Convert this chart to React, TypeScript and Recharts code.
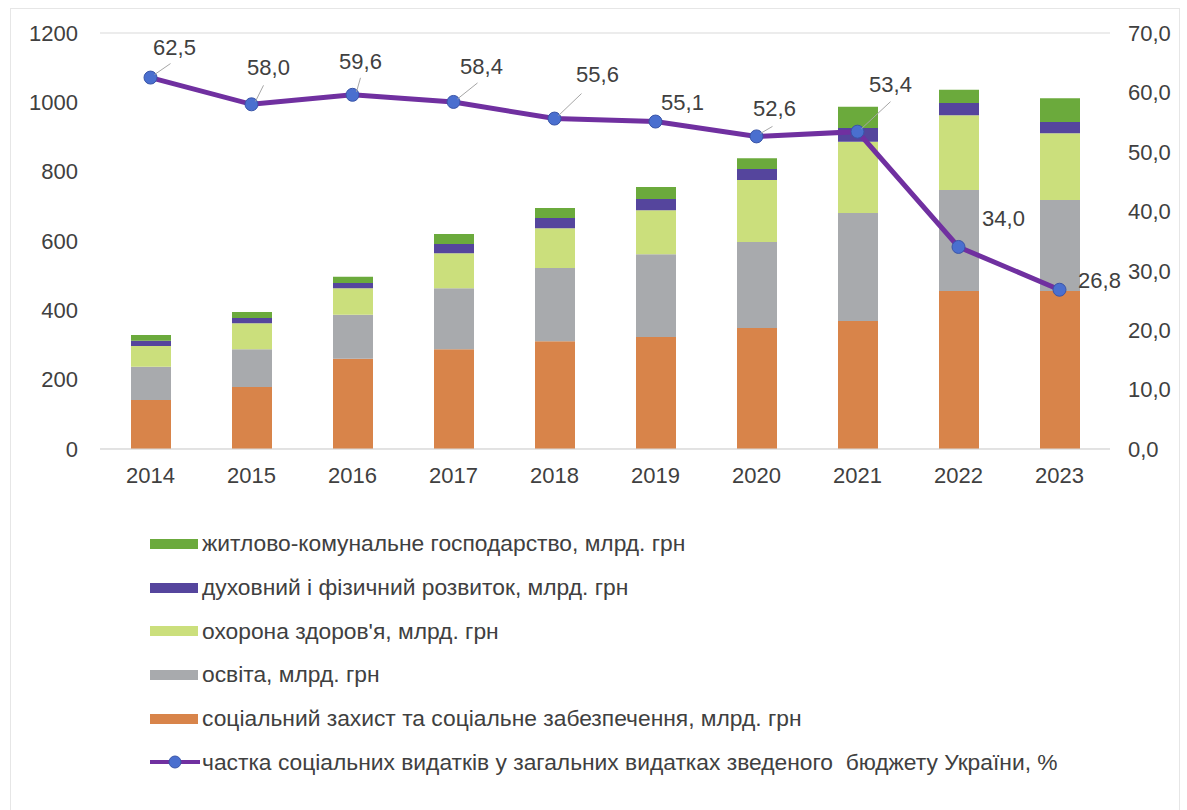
import { ComposedChart, Bar, Line, XAxis, YAxis, CartesianGrid, LabelList } from "recharts";

const years = ["2014", "2015", "2016", "2017", "2018", "2019", "2020", "2021", "2022", "2023"];
const socialProtection = [141, 179, 260, 288, 311, 323, 349, 369, 456, 456];
const education = [96, 109, 127, 176, 211, 239, 248, 312, 291, 262];
const health = [60, 75, 77, 101, 115, 127, 179, 205, 216, 193];
const spiritual = [15, 15, 15, 26, 29, 32, 32, 40, 35, 32];
const housing = [17, 17, 18, 29, 29, 35, 31, 61, 38, 69];
const socialShare = [62.5, 58.0, 59.6, 58.4, 55.6, 55.1, 52.6, 53.4, 34.0, 26.8];

const leftTicks = [0, 200, 400, 600, 800, 1000, 1200];
const rightTicks = [0, 10, 20, 30, 40, 50, 60, 70];

const data = years.map((year, i) => ({
  year,
  social: socialProtection[i],
  edu: education[i],
  health: health[i],
  spirit: spiritual[i],
  housing: housing[i],
  share: socialShare[i],
}));

// label offset from the point: text centre dx/dy, optional leader end
const labelOffsets = [
  { dx: 24, dy: -30, lead: [20, -14] },
  { dx: 17, dy: -37, lead: [12, -19] },
  { dx: 8, dy: -33, lead: [8, -17] },
  { dx: 28, dy: -35, lead: [24, -19] },
  { dx: 43, dy: -44, lead: [27, -25] },
  { dx: 27, dy: -19, lead: null },
  { dx: 18, dy: -28, lead: [16, -10] },
  { dx: 33, dy: -47, lead: [33, -30] },
  { dx: 45, dy: -28, lead: null },
  { dx: 40, dy: -9, lead: null },
];

const FONT = "'Liberation Sans', Arial, sans-serif";
const TEXT = "#404040";

const colors = {
  social: "#D8844A",
  edu: "#A8AAAD",
  health: "#CBDF7C",
  spirit: "#55459D",
  housing: "#6BAA3C",
  line: "#7030A0",
  marker: "#4A6FCF",
};

const legendItems = [
  { key: "housing", label: "житлово-комунальне господарство, млрд. грн" },
  { key: "spirit", label: "духовний і фізичний розвиток, млрд. грн" },
  { key: "health", label: "охорона здоров'я, млрд. грн" },
  { key: "edu", label: "освіта, млрд. грн" },
  { key: "social", label: "соціальний захист та соціальне забезпечення, млрд. грн" },
  { key: "line", label: "частка соціальних видатків у загальних видатках зведеного  бюджету України, %" },
];

const fmt = (v: number) => v.toFixed(1).replace(".", ",");

const ShareLabel = (props: any) => {
  const { x, y, value, index } = props;
  const o = labelOffsets[index];
  return (
    <g>
      {o.lead && (
        <line
          x1={x + 4}
          y1={y - 3}
          x2={x + o.lead[0]}
          y2={y + o.lead[1]}
          stroke="#A6A6A6"
          strokeWidth={1}
        />
      )}
      <text
        x={x + o.dx}
        y={y + o.dy}
        textAnchor="middle"
        dominantBaseline="central"
        fill={TEXT}
        fontSize={22}
        fontFamily={FONT}
      >
        {fmt(value)}
      </text>
    </g>
  );
};

const App = () => {
  return (
    <div style={{ position: "absolute", left: 0, top: 0, width: 1187, height: 810, background: "#fff", fontFamily: FONT }}>
      <div
        style={{
          position: "absolute",
          left: 10,
          top: 8,
          width: 1168,
          height: 810,
          border: "1px solid #E6E6E6",
        }}
      />
      <div style={{ position: "absolute", left: 0, top: 0 }}>
        <ComposedChart
          width={1187}
          height={500}
          data={data}
          margin={{ top: 33, right: 17, left: 40, bottom: 21 }}
          barCategoryGap={0}
        >
          <CartesianGrid vertical={false} stroke="#D9D9D9" />
          <XAxis
            dataKey="year"
            axisLine={{ stroke: "#D9D9D9" }}
            tickLine={false}
            height={30}
            tick={{ fill: TEXT, fontSize: 22, fontFamily: FONT }}
            tickMargin={12}
          />
          <YAxis
            yAxisId="left"
            domain={[0, 1200]}
            ticks={leftTicks}
            axisLine={false}
            tickLine={false}
            width={60}
            tickMargin={16}
            tick={{ fill: TEXT, fontSize: 22, fontFamily: FONT }}
          />
          <YAxis
            yAxisId="right"
            orientation="right"
            domain={[0, 70]}
            ticks={rightTicks}
            axisLine={false}
            tickLine={false}
            width={60}
            tickMargin={12}
            tickFormatter={fmt}
            tick={{ fill: TEXT, fontSize: 22, fontFamily: FONT }}
          />
          <Bar yAxisId="left" dataKey="social" stackId="a" fill={colors.social} barSize={40} isAnimationActive={false} />
          <Bar yAxisId="left" dataKey="edu" stackId="a" fill={colors.edu} barSize={40} isAnimationActive={false} />
          <Bar yAxisId="left" dataKey="health" stackId="a" fill={colors.health} barSize={40} isAnimationActive={false} />
          <Bar yAxisId="left" dataKey="spirit" stackId="a" fill={colors.spirit} barSize={40} isAnimationActive={false} />
          <Bar yAxisId="left" dataKey="housing" stackId="a" fill={colors.housing} barSize={40} isAnimationActive={false} />
          <Line
            yAxisId="right"
            dataKey="share"
            stroke={colors.line}
            strokeWidth={5}
            dot={{ r: 6.5, fill: colors.marker, stroke: "#3A55A8", strokeWidth: 1 }}
            isAnimationActive={false}
          >
            <LabelList dataKey="share" content={ShareLabel} />
          </Line>
        </ComposedChart>
      </div>
      <div style={{ position: "absolute", left: 150, top: 522 }}>
        {legendItems.map((item) => (
          <div key={item.key} style={{ display: "flex", alignItems: "center", height: 43.7, color: TEXT, fontSize: 22.8 }}>
            {item.key === "line" ? (
              <svg width={50} height={14} style={{ marginRight: 2 }}>
                <line x1={0} y1={7} x2={50} y2={7} stroke={colors.line} strokeWidth={4} />
                <circle cx={25} cy={7} r={6} fill={colors.marker} stroke="#3A55A8" strokeWidth={1} />
              </svg>
            ) : (
              <div
                style={{
                  width: 48,
                  height: 10,
                  background: (colors as any)[item.key],
                  marginRight: 4,
                }}
              />
            )}
            <span style={{ whiteSpace: "pre" }}>{item.label}</span>
          </div>
        ))}
      </div>
    </div>
  );
};

export default App;
